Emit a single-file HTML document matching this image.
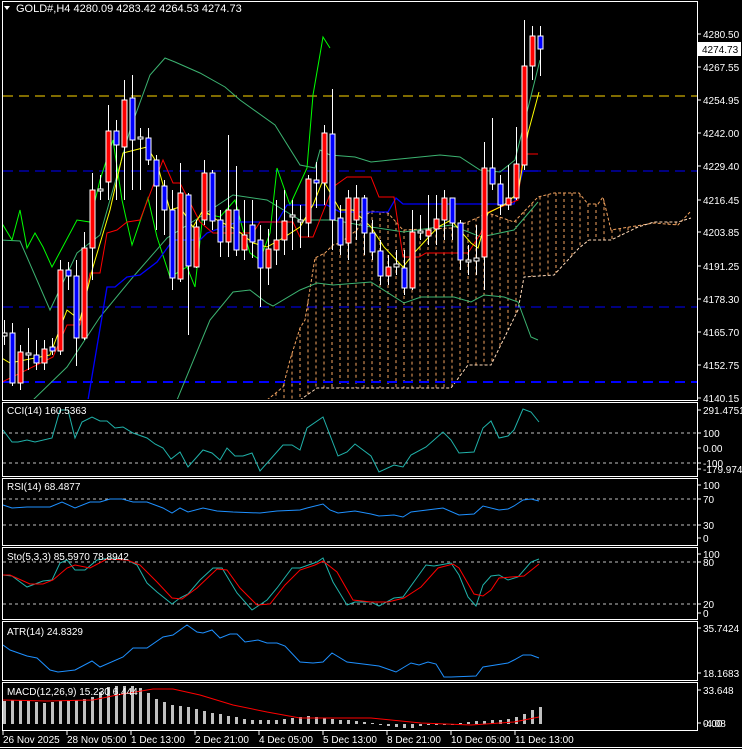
<!DOCTYPE html>
<html><head><meta charset="utf-8"><style>
html,body{margin:0;padding:0;background:#000;width:742px;height:749px;overflow:hidden}
svg{display:block}
text{font-family:"Liberation Sans",sans-serif;font-size:10px;fill:#fff}
</style></head><body>
<svg id="s" width="742" height="749" xmlns="http://www.w3.org/2000/svg">
<rect width="742" height="749" fill="#000"/>
<defs>
<clipPath id="cm"><rect x="3" y="2" width="694" height="397"/></clipPath>
</defs>
<g id="cloud" clip-path="url(#cm)"></g>
<g clip-path="url(#cm)">
<line x1="3" y1="96" x2="697" y2="96" stroke="#ffd700" stroke-dasharray="10,6"/>
<line x1="3" y1="171" x2="697" y2="171" stroke="#0000ff" stroke-dasharray="10,6"/>
<line x1="3" y1="307" x2="697" y2="307" stroke="#0000ff" stroke-dasharray="10,6"/>
<line x1="3" y1="382" x2="697" y2="382" stroke="#0000ff" stroke-width="2" stroke-dasharray="10,6"/>
<g id="lines"></g>
<g id="candles"></g>
</g>
<g id="sub"></g>
<g id="frames" fill="none" stroke="#fff"></g>
<g id="labels"></g>
<path d="M4 6 L10 6 L7 10 Z" fill="#fff"/>
<text x="16" y="12" style="font-size:11px">GOLD#,H4  4280.09 4283.42 4264.53 4274.73</text>
<rect x="698" y="42" width="43" height="14" fill="#fff"/>
<text x="702" y="53" style="fill:#000">4274.73</text>
</svg>
<script>
(function(){
var NS="http://www.w3.org/2000/svg";
function el(p,t,a,txt){var e=document.createElementNS(NS,t);for(var k in a)e.setAttribute(k,a[k]);if(txt!==undefined)e.textContent=txt;p.appendChild(e);return e;}
function pl(p,pts,c,w,extra){var a={points:pts.map(function(q){return q.join(',')}).join(' '),fill:'none',stroke:c,'stroke-width':w||1};for(var k in extra)a[k]=extra[k];return el(p,'polyline',a);}
var L=document.getElementById('lines'),C=document.getElementById('candles'),CL=document.getElementById('cloud');
var spanA=[[267,400],[277,392],[283,387],[290,360],[300,328],[305,320],[315,258],[325,253],[333,245],[340,243],[357,230],[363,218],[371,211],[388,213],[403,230],[451,228],[468,222],[488,213],[514,222],[538,197],[554,193],[579,193],[588,204],[598,204],[603,197],[611,230],[654,223],[678,225],[691,211]];
var spanB=[[300,400],[317,388],[451,388],[468,365],[491,365],[518,310],[524,277],[554,275],[579,248],[589,240],[611,240],[638,227],[654,222],[678,222],[691,218]];
function interp(arr,x){if(x<=arr[0][0])return arr[0][1];for(var i=1;i<arr.length;i++){if(x<=arr[i][0]){var a=arr[i-1],b=arr[i];return a[1]+(b[1]-a[1])*(x-a[0])/(b[0]-a[0]);}}return arr[arr.length-1][1];}
for(var x=268;x<=690;x+=8){var y1=interp(spanA,x),y2=x<300?400:interp(spanB,x);if(Math.abs(y2-y1)>2)el(CL,'line',{x1:x,y1:Math.min(y1,y2),x2:x,y2:Math.max(y1,y2),stroke:'#f4a460','stroke-dasharray':'3,3'});}
pl(CL,spanA,'#f4a460',1,{'stroke-dasharray':'3,2'});
pl(CL,spanB,'#ffdab9',1,{'stroke-dasharray':'3,2'});
var G='#3cb371';
pl(L,[[0,240],[20,241],[50,310],[77,253],[100,235],[130,130],[150,75],[165,58],[175,62],[200,73],[225,87],[240,100],[275,125],[300,165],[315,168],[320,150],[330,155],[355,157],[371,162],[390,160],[440,155],[460,157],[480,170],[500,172],[515,160],[540,60]],G);
pl(L,[[33,400],[67,367],[100,317],[133,277],[167,238],[200,217],[233,195],[267,200],[300,220],[333,220],[371,227],[404,232],[451,225],[481,237],[514,230],[538,202]],G);
pl(L,[[177,400],[210,320],[233,292],[250,290],[267,303],[273,306],[300,290],[317,283],[333,285],[371,282],[404,303],[421,297],[454,297],[471,302],[484,295],[504,297],[518,302],[531,337],[538,340]],G);
pl(L,[[0,220],[12,240],[20,210],[27,248],[35,233],[43,247],[52,267],[77,220],[90,222],[100,180],[113,140],[122,200],[132,245],[148,198],[157,237],[170,277],[187,267],[195,287],[203,213],[220,217],[235,200],[243,230],[250,253],[260,260],[270,233],[277,168],[290,205],[307,168],[313,95],[323,37],[330,48]],'#00ff00');
pl(L,[[88,400],[107,287],[115,287],[127,277],[140,275],[157,262],[173,240],[200,240],[207,233],[237,222],[277,222],[287,205],[327,205],[340,212],[388,212],[396,198],[403,204],[514,204],[523,171],[538,171]],'#0000ff',1.3);
pl(L,[[0,383],[53,357],[67,325],[80,325],[90,273],[100,273],[107,233],[117,230],[127,222],[140,220],[163,160],[173,183],[180,183],[200,222],[213,233],[253,233],[260,222],[293,222],[300,237],[313,237],[333,187],[347,177],[371,177],[379,197],[394,197],[403,257],[419,257],[426,253],[468,253],[481,233],[486,213],[518,200],[523,154],[538,154]],'#ff0000');
pl(L,[[0,357],[10,363],[50,355],[67,310],[80,320],[93,267],[110,210],[123,153],[147,147],[157,163],[170,210],[180,207],[193,227],[203,210],[217,220],[237,230],[253,243],[267,247],[283,238],[300,227],[313,205],[323,180],[340,210],[353,210],[371,227],[384,247],[403,267],[414,253],[438,227],[451,220],[471,243],[478,248],[488,213],[504,205],[518,193],[528,133],[539,92]],'#ffff00');
var cd=[['w',333,336,320,345],['b',333,383,323,386],['r',352,383,345,390],['w',353,355,328,370],['b',355,363,340,370],['r',349,363,340,370],['b',347,351,338,355],['r',270,351,260,355],['b',270,276,262,290],['b',276,338,260,366],['r',248,338,232,340],['r',190,248,173,280],['w',189,191,175,200],['r',131,182,105,200],['b',131,145,120,200],['r',100,147,80,200],['b',98,140,75,190],['w',137,139,128,190],['b',138,160,128,165],['b',160,186,155,230],['b',186,210,180,235],['b',210,278,190,290],['r',193,279,163,282],['b',195,266,193,335],['r',227,267,220,268],['r',173,220,160,225],['b',173,221,170,230],['b',220,242,210,257],['r',210,242,135,257],['b',210,250,166,256],['r',235,250,200,260],['b',225,242,200,258],['b',240,268,225,307],['r',249,268,229,285],['r',240,250,200,265],['r',221,240,190,255],['w',215,217,200,250],['w',220,222,205,248],['r',179,223,175,237],['b',180,183,162,208],['r',133,183,125,205],['b',134,220,89,250],['b',218,245,205,255],['r',198,243,190,260],['r',198,220,185,240],['b',198,233,195,255],['b',233,252,220,260],['b',251,276,240,285],['r',267,276,255,285],['w',264,267,250,275],['b',268,288,250,295],['r',232,288,210,290],['w',231,233,215,240],['r',230,236,195,245],['r',219,229,195,245],['r',198,220,190,240],['b',198,223,200,240],['b',223,260,220,270],['w',260,262,245,275],['w',258,261,225,275],['r',168,257,142,290],['b',168,184,118,190],['b',184,205,175,215],['r',198,205,165,210],['r',164,198,127,200],['r',66,165,20,170],['r',36,66,26,80],['b',36,49,26,76]];
cd.forEach(function(c,i){var x=4+8*i;el(C,'line',{x1:x+.5,y1:c[3],x2:x+.5,y2:c[4],stroke:'#fff'});
 var f=c[0]=='r'?'#ff0000':c[0]=='b'?'#0000ff':'#000';
 el(C,'rect',{x:x-2,y:c[1],width:5,height:Math.max(1,c[2]-c[1]),fill:f,stroke:'#fff','stroke-width':1});});
var SB=document.getElementById('sub');
function dash(y){el(SB,'line',{x1:3,y1:y,x2:697,y2:y,stroke:'#c0c0c0','stroke-dasharray':'3,3'});}
dash(433);dash(463);dash(499);dash(525);dash(562);dash(604);
var T='#20b2aa';
pl(SB,[[3,430],[12,442],[18,442],[27,440],[35,442],[52,438],[60,410],[68,410],[75,438],[82,422],[92,417],[100,421],[107,421],[115,428],[123,427],[133,433],[147,438],[155,444],[163,448],[171,459],[180,452],[188,467],[203,450],[212,453],[220,460],[227,448],[235,456],[243,456],[252,453],[260,471],[283,445],[292,445],[300,450],[307,428],[323,417],[338,456],[347,452],[355,444],[371,456],[379,472],[394,465],[403,467],[411,455],[426,447],[443,432],[451,440],[459,453],[474,452],[483,428],[491,421],[499,438],[508,436],[514,430],[523,409],[531,412],[539,422]],T);
pl(SB,[[3,505],[12,508],[27,507],[50,507],[62,502],[75,508],[90,502],[100,502],[110,499],[122,499],[133,502],[147,502],[163,508],[172,513],[180,508],[188,512],[203,508],[217,511],[233,512],[260,513],[277,511],[300,510],[307,508],[323,504],[330,510],[338,513],[355,511],[371,514],[379,516],[394,515],[403,517],[411,512],[443,508],[459,515],[474,514],[483,506],[499,510],[508,509],[514,506],[523,500],[531,499],[539,501]],'#1e90ff');
pl(SB,[[3,575],[12,576],[27,587],[43,581],[52,580],[60,563],[67,560],[75,570],[85,570],[97,560],[110,558],[127,560],[137,565],[147,583],[157,592],[172,604],[180,598],[188,594],[200,580],[213,568],[222,568],[237,593],[252,610],[267,600],[277,588],[292,568],[300,568],[317,562],[323,558],[333,582],[347,605],[355,602],[371,602],[379,606],[394,598],[403,597],[426,565],[434,566],[451,563],[459,575],[468,597],[476,606],[483,585],[491,576],[499,575],[508,580],[518,577],[531,562],[539,559]],T);
pl(SB,[[3,575],[10,575],[30,584],[43,584],[53,580],[67,568],[75,565],[90,568],[107,559],[127,560],[140,565],[157,582],[172,598],[182,599],[197,588],[217,569],[227,570],[240,588],[257,605],[270,604],[285,585],[300,570],[315,565],[323,561],[337,572],[353,600],[371,602],[388,602],[404,598],[421,587],[438,568],[453,564],[459,568],[474,594],[483,596],[491,590],[499,578],[524,576],[539,564]],'#ff0000');
pl(SB,[[3,645],[10,650],[27,656],[37,658],[50,670],[58,672],[75,670],[92,661],[100,667],[123,657],[133,648],[147,648],[163,637],[173,635],[187,625],[197,632],[203,633],[212,630],[220,638],[230,634],[237,634],[245,642],[258,640],[267,643],[277,643],[285,646],[300,662],[313,663],[323,662],[332,653],[347,662],[371,665],[379,666],[396,672],[411,663],[419,665],[428,662],[436,664],[444,677],[451,677],[476,676],[483,667],[508,663],[514,660],[523,655],[531,655],[539,658]],'#1e90ff');
var mb=[701,700,700,701,702,703,702,701,700,700,699,697,692,687,686,686,686,688,693,699,702,705,706,707,709,711,713,714,716,717,719,720,720,720,720,719,718,717,716,717,718,719,720,720,721,722,723,724,726,727,728,728,726,725,725,724,724,723,722,721,721,720,720,719,717,714,710,707];
mb.forEach(function(v,i){var x=4+8*i;el(SB,'rect',{x:x-1,y:Math.min(v,724),width:3,height:Math.max(1,Math.abs(724-v)),fill:'#c0c0c0'});});
pl(SB,[[3,700],[47,701],[93,700],[117,695],[153,689],[173,689],[200,695],[233,705],[267,712],[300,718],[333,718],[371,718],[421,723],[471,725],[514,722],[539,717]],'#ff0000');
var F=document.getElementById('frames');
[[1,400],[402,476],[478,545],[547,619],[621,680],[682,730]].forEach(function(p){el(F,'rect',{x:2.5,y:p[0]+.5,width:695,height:p[1]-p[0]});});
el(F,'line',{x1:0,y1:747.5,x2:742,y2:747.5});
var LB=document.getElementById('labels');
function lab(y,t){el(LB,'line',{x1:697,y1:y,x2:701,y2:y,stroke:'#fff'});el(LB,'text',{x:703,y:y+4},t);}
[[34,'4280.50'],[67,'4267.55'],[100,'4254.95'],[133,'4242.00'],[166,'4229.40'],[200,'4216.45'],[232,'4203.85'],[266,'4191.25'],[299,'4178.30'],[332,'4165.70'],[365,'4152.75'],[398,'4140.15'],
[410,'291.4751'],[433,'100'],[448,'0.00'],[463,'-100'],[469,'-179.9743'],[485,'100'],[499,'70'],[525,'30'],[538,'0'],[554,'100'],[562,'80'],[604,'20'],[613,'0'],[628,'35.7424'],[673,'18.1683'],[690,'33.648'],[723,'0.00'],[723,'-4.08']].forEach(function(a){lab(a[0],a[1]);});
el(LB,'text',{x:7,y:414},'CCI(14) 160.5363');
el(LB,'text',{x:7,y:490},'RSI(14) 68.4877');
el(LB,'text',{x:7,y:560},'Sto(5,3,3) 85.5970 78.8942');
el(LB,'text',{x:7,y:635},'ATR(14) 24.8329');
el(LB,'text',{x:7,y:695},'MACD(12,26,9) 15.230 6.444');
[[3,'26 Nov 2025'],[67,'28 Nov 05:00'],[131,'1 Dec 13:00'],[195,'2 Dec 21:00'],[259,'4 Dec 05:00'],[323,'5 Dec 13:00'],[387,'8 Dec 21:00'],[451,'10 Dec 05:00'],[515,'11 Dec 13:00']].forEach(function(a){el(LB,'line',{x1:a[0],y1:730,x2:a[0],y2:735,stroke:'#fff'});el(LB,'text',{x:a[0],y:743},a[1]);});
})();
</script>
</body></html>
